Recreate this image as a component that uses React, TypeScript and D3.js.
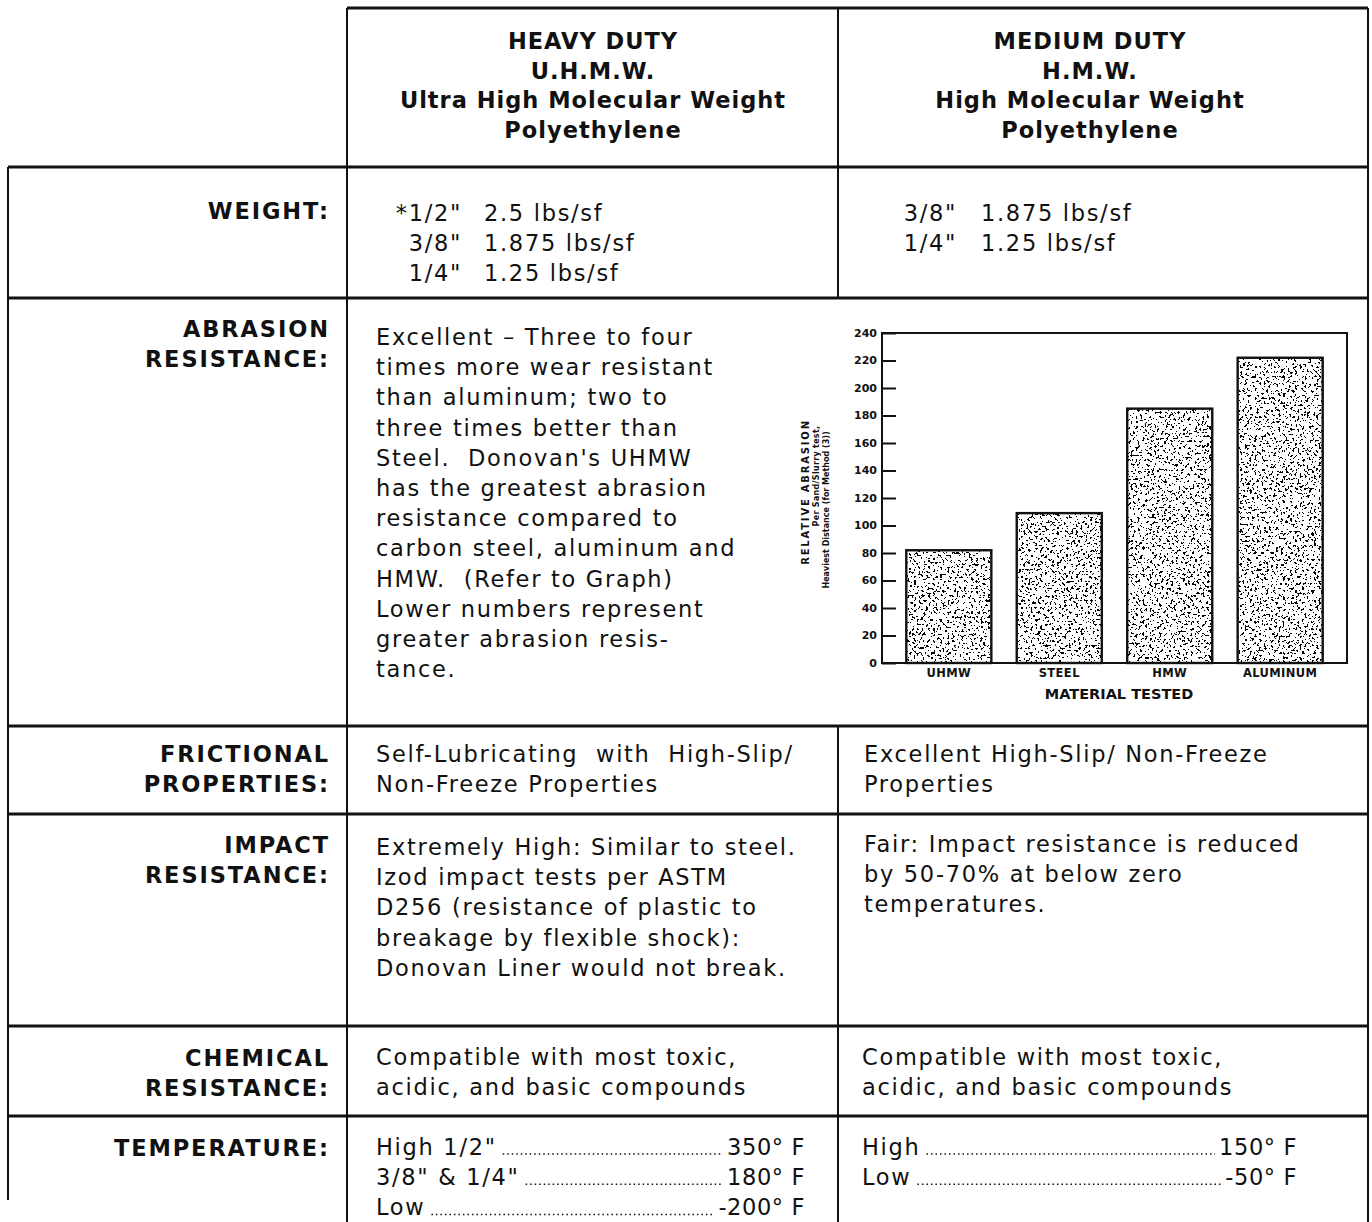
import { useEffect, useRef } from 'react';
import * as d3 from 'd3';

// ---- table text ----
const headerHeavy = ['HEAVY DUTY', 'U.H.M.W.', 'Ultra High Molecular Weight', 'Polyethylene'];
const headerMedium = ['MEDIUM DUTY', 'H.M.W.', 'High Molecular Weight', 'Polyethylene'];

const rowLabels = [
  ['WEIGHT:'],
  ['ABRASION', 'RESISTANCE:'],
  ['FRICTIONAL', 'PROPERTIES:'],
  ['IMPACT', 'RESISTANCE:'],
  ['CHEMICAL', 'RESISTANCE:'],
  ['TEMPERATURE:'],
];

const weightHeavy = [['*1/2"', '2.5 lbs/sf'], ['3/8"', '1.875 lbs/sf'], ['1/4"', '1.25 lbs/sf']];
const weightMedium = [['3/8"', '1.875 lbs/sf'], ['1/4"', '1.25 lbs/sf']];

const abrasionText = [
  'Excellent – Three to four',
  'times more wear resistant',
  'than aluminum; two to',
  'three times better than',
  "Steel.  Donovan's UHMW",
  'has the greatest abrasion',
  'resistance compared to',
  'carbon steel, aluminum and',
  'HMW.  (Refer to Graph)',
  'Lower numbers represent',
  'greater abrasion resis-',
  'tance.',
];

const frictionHeavy = ['Self-Lubricating  with  High-Slip/', 'Non-Freeze Properties'];
const frictionMedium = ['Excellent High-Slip/ Non-Freeze', 'Properties'];

const impactHeavy = [
  'Extremely High: Similar to steel.',
  'Izod impact tests per ASTM',
  'D256 (resistance of plastic to',
  'breakage by flexible shock):',
  'Donovan Liner would not break.',
];
const impactMedium = ['Fair: Impact resistance is reduced', 'by 50-70% at below zero', 'temperatures.'];

const chemicalHeavy = ['Compatible with most toxic,', 'acidic, and basic compounds'];
const chemicalMedium = ['Compatible with most toxic,', 'acidic, and basic compounds'];

const tempHeavy = [['High 1/2"', '350° F'], ['3/8" & 1/4"', '180° F'], ['Low', '-200° F']];
const tempMedium = [['High', '150° F'], ['Low', '-50° F']];

// ---- abrasion chart ----
const materials = ['UHMW', 'STEEL', 'HMW', 'ALUMINUM'];
const abrasion = [82, 109, 185, 222];
const abrasionTicks = [0, 20, 40, 60, 80, 100, 120, 140, 160, 180, 200, 220, 240];
const yTitle = ['RELATIVE ABRASION', 'Per Sand/Slurry test,', 'Heaviest Distance (for Method (3))'];
const xTitle = 'MATERIAL TESTED';

const W = 1372;
const H = 1222;
const FONT = 'DejaVu Sans';

// keep double spaces from the source text
const keep = (t: string) => t.replace(/ {2}/g, ' \u00a0');

export default function App() {
  const ref = useRef<SVGSVGElement>(null);

  useEffect(() => {
    if (!ref.current) return;
    const svg = d3.select(ref.current);
    svg.selectAll('*').remove();

    // grid geometry
    const xl = 8, xc = 347, xm = 838, xr = 1368;
    const rows = [8, 167, 298, 726, 814, 1026, 1116, H];
    const lh = 30.2;

    const body = svg.append('g').attr('font-family', FONT).attr('fill', '#111');

    // ---- lines ----
    const lines = svg.append('g').attr('stroke', '#111').attr('fill', 'none');
    lines.append('line').attr('x1', xc).attr('x2', xr).attr('y1', rows[0]).attr('y2', rows[0]).attr('stroke-width', 3);
    rows.slice(1, 7).forEach((y) => {
      lines.append('line').attr('x1', xl).attr('x2', xr).attr('y1', y).attr('y2', y).attr('stroke-width', 3);
    });
    lines.append('line').attr('x1', xl).attr('x2', xl).attr('y1', rows[1]).attr('y2', 1200).attr('stroke-width', 2);
    lines.append('line').attr('x1', xc).attr('x2', xc).attr('y1', rows[0]).attr('y2', H).attr('stroke-width', 2);
    lines.append('line').attr('x1', xm).attr('x2', xm).attr('y1', rows[0]).attr('y2', rows[2]).attr('stroke-width', 2);
    lines.append('line').attr('x1', xm).attr('x2', xm).attr('y1', rows[3]).attr('y2', H).attr('stroke-width', 2);
    lines.append('line').attr('x1', xr).attr('x2', xr).attr('y1', rows[0]).attr('y2', H).attr('stroke-width', 2);

    // ---- header ----
    const hdr = body.append('g').attr('font-weight', 'bold').attr('font-size', 22.5).attr('letter-spacing', 1).attr('text-anchor', 'middle');
    headerHeavy.forEach((t, i) => hdr.append('text').attr('x', 593).attr('y', 49 + i * 29.7).text(t));
    headerMedium.forEach((t, i) => hdr.append('text').attr('x', 1090).attr('y', 49 + i * 29.7).text(t));

    // ---- row labels ----
    const labelBase = [219, 337, 762, 853, 1066, 1156];
    const lab = body.append('g').attr('font-weight', 'bold').attr('font-size', 22.5).attr('letter-spacing', 1.9).attr('text-anchor', 'end');
    rowLabels.forEach((ls, r) => ls.forEach((t, i) => lab.append('text').attr('x', 330).attr('y', labelBase[r] + i * lh).text(t)));

    // ---- cell text ----
    const txt = body.append('g').attr('font-size', 22.5).attr('letter-spacing', 1.7);
    const block = (arr: string[], x: number, y0: number) =>
      arr.forEach((t, i) => txt.append('text').attr('x', x).attr('y', y0 + i * lh).text(keep(t)));

    weightHeavy.forEach(([s, v], i) => {
      txt.append('text').attr('x', 462).attr('y', 221 + i * lh).attr('text-anchor', 'end').text(s);
      txt.append('text').attr('x', 484).attr('y', 221 + i * lh).text(v);
    });
    weightMedium.forEach(([s, v], i) => {
      txt.append('text').attr('x', 957).attr('y', 221 + i * lh).attr('text-anchor', 'end').text(s);
      txt.append('text').attr('x', 981).attr('y', 221 + i * lh).text(v);
    });

    block(abrasionText, 376, 345);
    block(frictionHeavy, 376, 762);
    block(frictionMedium, 864, 762);
    block(impactHeavy, 376, 855);
    block(impactMedium, 864, 852);
    block(chemicalHeavy, 376, 1065);
    block(chemicalMedium, 862, 1065);

    // temperature with dotted leaders
    const leader = (pairs: string[][], x: number, xEnd: number, y0: number) =>
      pairs.forEach(([l, v], i) => {
        const y = y0 + i * lh;
        const a = txt.append('text').attr('x', x).attr('y', y).text(l);
        const b = txt.append('text').attr('x', xEnd).attr('y', y).attr('text-anchor', 'end').attr('letter-spacing', 0.6).text(v);
        const la = (a.node() as SVGTextElement).getComputedTextLength();
        const lb = (b.node() as SVGTextElement).getComputedTextLength();
        lines.append('line')
          .attr('x1', x + la + 6).attr('x2', xEnd - lb - 4)
          .attr('y1', y - 1).attr('y2', y - 1)
          .attr('stroke-width', 1.5).attr('stroke-dasharray', '1.5 3');
      });
    leader(tempHeavy, 376, 805, 1155);
    leader(tempMedium, 862, 1297, 1155);

    // ---- abrasion chart ----
    const defs = svg.append('defs');
    const f = defs.append('filter').attr('id', 'stipple')
      .attr('x', 0).attr('y', 0).attr('width', 1).attr('height', 1)
      .attr('color-interpolation-filters', 'sRGB');
    f.append('feTurbulence').attr('type', 'fractalNoise').attr('baseFrequency', 0.42).attr('numOctaves', 2).attr('seed', 7).attr('result', 'n');
    f.append('feColorMatrix').attr('in', 'n').attr('type', 'matrix')
      .attr('values', '0 0 0 0 0  0 0 0 0 0  0 0 0 0 0  10 0 0 0 -5.65');
    f.append('feComponentTransfer').append('feFuncA').attr('type', 'discrete').attr('tableValues', '0 1');

    const x = d3.scaleBand().domain(materials).range([882, 1347]).paddingInner(0.23).paddingOuter(0.22);
    const y = d3.scaleLinear().domain([0, 240]).range([663, 333]);

    const chart = svg.append('g').attr('font-family', FONT).attr('fill', '#111');

    chart.selectAll('rect.bar').data(materials).enter().append('rect')
      .attr('class', 'bar')
      .attr('x', (d) => x(d)!).attr('y', (_, i) => y(abrasion[i]))
      .attr('width', x.bandwidth()).attr('height', (_, i) => y(0) - y(abrasion[i]))
      .attr('fill', '#fff');
    chart.selectAll('rect.dots').data(materials).enter().append('rect')
      .attr('class', 'dots')
      .attr('x', (d) => x(d)!).attr('y', (_, i) => y(abrasion[i]))
      .attr('width', x.bandwidth()).attr('height', (_, i) => y(0) - y(abrasion[i]))
      .attr('fill', '#000').attr('filter', 'url(#stipple)');
    chart.selectAll('rect.edge').data(materials).enter().append('rect')
      .attr('class', 'edge')
      .attr('x', (d) => x(d)!).attr('y', (_, i) => y(abrasion[i]))
      .attr('width', x.bandwidth()).attr('height', (_, i) => y(0) - y(abrasion[i]))
      .attr('fill', 'none').attr('stroke', '#111').attr('stroke-width', 2.4);

    chart.append('rect').attr('x', 882).attr('y', y(240)).attr('width', 1347 - 882).attr('height', y(0) - y(240))
      .attr('fill', 'none').attr('stroke', '#111').attr('stroke-width', 2);

    const ax = chart.append('g').attr('transform', 'translate(882,0)');
    ax.call(d3.axisRight(y).tickValues(abrasionTicks).tickSize(14).tickFormat(() => ''));
    ax.select('.domain').remove();
    ax.selectAll('line').attr('stroke', '#111').attr('stroke-width', 2);

    chart.selectAll('text.ytick').data(abrasionTicks).enter().append('text')
      .attr('class', 'ytick')
      .attr('x', 877).attr('y', (d) => y(d)).attr('dy', '0.36em')
      .attr('text-anchor', 'end').attr('font-size', 11).attr('font-weight', 'bold')
      .text((d) => String(d));

    chart.selectAll('text.xcat').data(materials).enter().append('text')
      .attr('class', 'xcat')
      .attr('x', (d) => x(d)! + x.bandwidth() / 2).attr('y', 677)
      .attr('text-anchor', 'middle').attr('font-size', 11.5).attr('font-weight', 'bold').attr('letter-spacing', 0.4)
      .text((d) => d);

    chart.append('text').attr('x', 1119).attr('y', 699).attr('text-anchor', 'middle')
      .attr('font-size', 14.5).attr('font-weight', 'bold').text(xTitle);

    const yt = chart.append('g').attr('text-anchor', 'middle');
    yt.append('text').attr('transform', 'translate(809,492) rotate(-90)')
      .attr('font-size', 10).attr('font-weight', 'bold').attr('letter-spacing', 1.8).text(yTitle[0]);
    yt.append('text').attr('transform', 'translate(818.5,476) rotate(-90)')
      .attr('font-size', 8).attr('font-weight', 'bold').attr('letter-spacing', 0.3).text(yTitle[1]);
    yt.append('text').attr('transform', 'translate(829,510) rotate(-90)')
      .attr('font-size', 8).attr('font-weight', 'bold').attr('letter-spacing', 0).text(yTitle[2]);
  }, []);

  return (
    <svg
      ref={ref}
      width={W}
      height={H}
      style={{ position: 'absolute', left: 0, top: 0, display: 'block', background: '#fff' }}
    />
  );
}
